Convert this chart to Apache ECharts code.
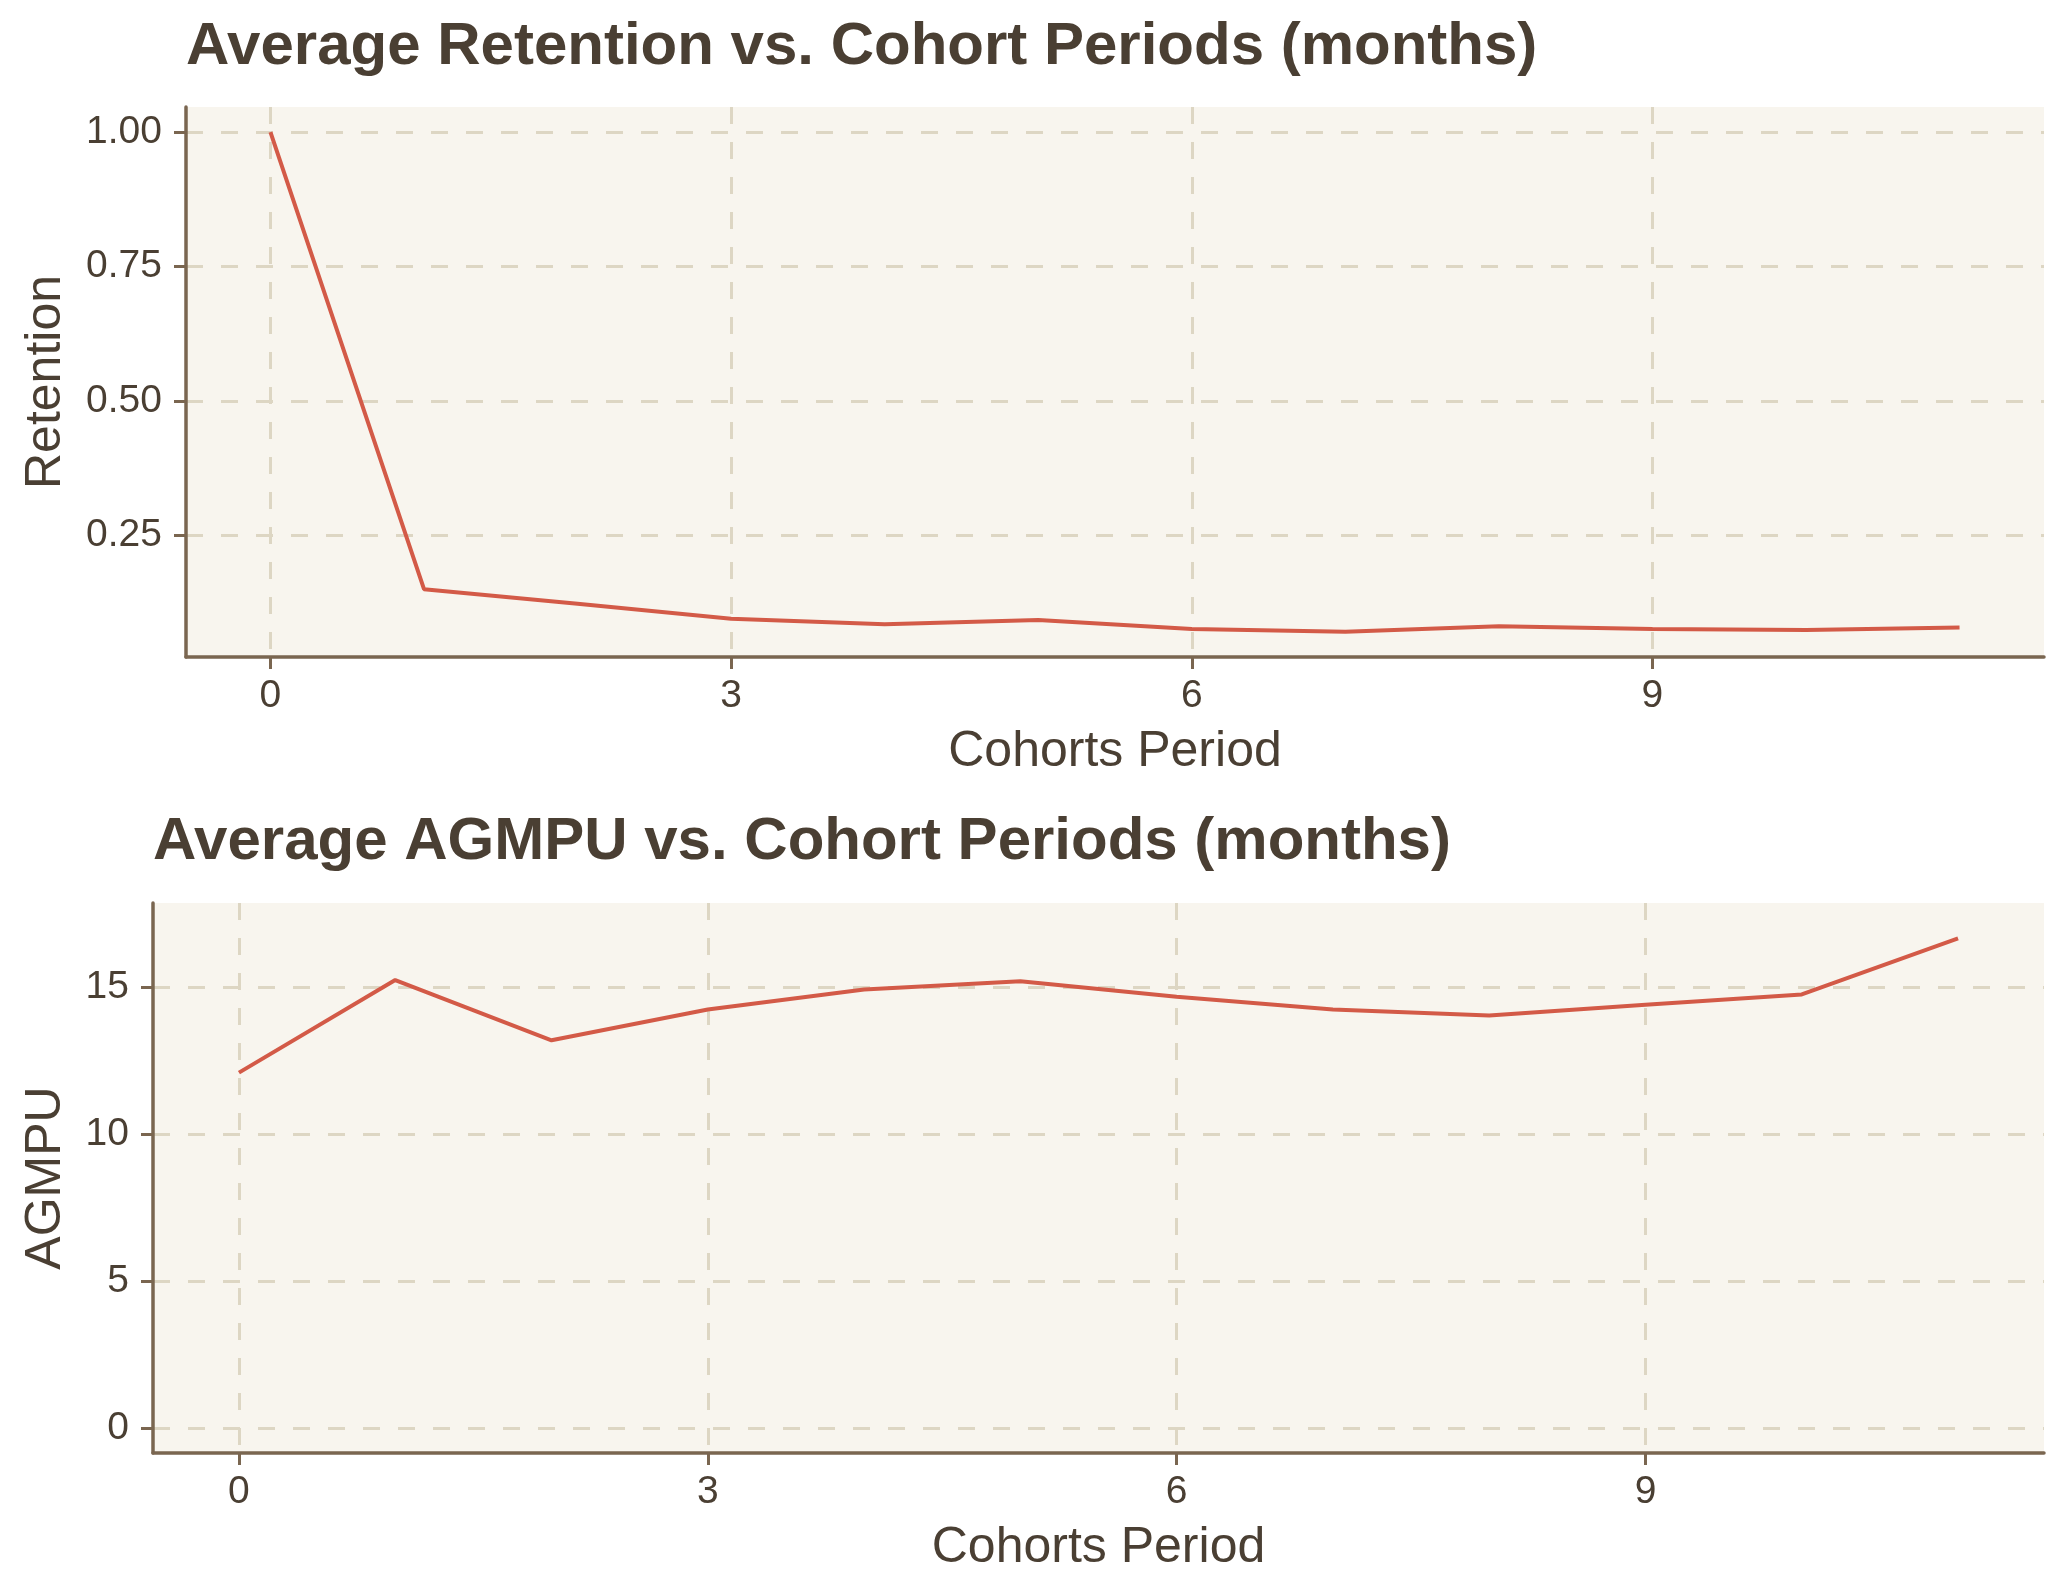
<!DOCTYPE html>
<html>
<head>
<meta charset="utf-8">
<script src="https://cdn.jsdelivr.net/npm/echarts@6/dist/echarts.min.js"></script>
<style>
html,body{margin:0;padding:0;background:#ffffff;}
#chart{width:2070px;height:1591px;}
</style>
</head>
<body>
<div id="chart"></div>
<script>
const periods = [0, 1, 2, 3, 4, 5, 6, 7, 8, 9, 10, 11];
const retention = [1.0, 0.150, 0.123, 0.095, 0.085, 0.093, 0.076, 0.071, 0.081, 0.076, 0.074, 0.079];
const agmpu = [12.09, 15.24, 13.19, 14.24, 14.92, 15.20, 14.67, 14.24, 14.03, 14.40, 14.75, 16.66];
const xTicks = [0, 3, 6, 9];
const retentionTicks = [0.25, 0.5, 0.75, 1.0];
const agmpuTicks = [0, 5, 10, 15];
const titles = ['Average Retention vs. Cohort Periods (months)', 'Average AGMPU vs. Cohort Periods (months)'];
const xName = 'Cohorts Period';
const yNames = ['Retention', 'AGMPU'];

const FONT = '"Liberation Sans", Arial, Helvetica, sans-serif';
const TEXT = '#4a3f33';
const AXIS = '#7a6650';
const GRIDC = '#ddd6c3';
const LINE = '#d35a47';

function xAxisCfg(gridIndex) {
  return {
    type: 'value', gridIndex: gridIndex, min: -0.55, max: 11.55,
    name: xName, nameLocation: 'middle', nameGap: 70,
    nameTextStyle: {fontFamily: FONT, fontSize: 50, color: TEXT},
    axisLine: {show: true, onZero: false, lineStyle: {color: AXIS, width: 3.5}},
    axisTick: {show: true, length: 12, lineStyle: {color: AXIS, width: 3}, customValues: xTicks},
    axisLabel: {show: true, margin: 20, fontFamily: FONT, fontSize: 39, color: TEXT, customValues: xTicks},
    splitLine: {show: true, lineStyle: {color: GRIDC, width: 3, type: [17, 18]}}
  };
}
function yAxisCfg(gridIndex, min, max, ticks, name, gap, fmt) {
  return {
    type: 'value', gridIndex: gridIndex, min: min, max: max,
    name: name, nameLocation: 'middle', nameGap: gap,
    nameTextStyle: {fontFamily: FONT, fontSize: 50, color: TEXT},
    axisLine: {show: true, onZero: false, lineStyle: {color: AXIS, width: 3.5}},
    axisTick: {show: true, length: 12, lineStyle: {color: AXIS, width: 3}, customValues: ticks},
    axisLabel: {show: true, margin: 24, fontFamily: FONT, fontSize: 39, color: TEXT, customValues: ticks, formatter: fmt},
    splitLine: {show: true, lineStyle: {color: GRIDC, width: 3, type: [17, 18]}}
  };
}

const chart = echarts.init(document.getElementById('chart'), null, {renderer: 'canvas'});
chart.setOption({
  animation: false,
  backgroundColor: '#ffffff',
  title: [
    {text: titles[0], left: 186, top: 17, padding: 0, textStyle: {fontFamily: FONT, fontSize: 60, fontWeight: 'bold', color: TEXT}},
    {text: titles[1], left: 153, top: 812, padding: 0, textStyle: {fontFamily: FONT, fontSize: 60, fontWeight: 'bold', color: TEXT}}
  ],
  grid: [
    {left: 186, top: 107, width: 1858, height: 550, show: true, backgroundColor: '#f8f5ee', borderWidth: 0, containLabel: false},
    {left: 153, top: 903, width: 1891, height: 550, show: true, backgroundColor: '#f8f5ee', borderWidth: 0, containLabel: false}
  ],
  xAxis: [xAxisCfg(0), xAxisCfg(1)],
  yAxis: [
    yAxisCfg(0, 0.024, 1.0465, retentionTicks, yNames[0], 115, v => v.toFixed(2)),
    yAxisCfg(1, -0.85, 17.86, agmpuTicks, yNames[1], 82, v => String(v))
  ],
  series: [
    {type: 'line', xAxisIndex: 0, yAxisIndex: 0, data: periods.map((p, i) => [p, retention[i]]),
     showSymbol: false, symbol: 'none', lineStyle: {color: LINE, width: 4}, z: 5},
    {type: 'line', xAxisIndex: 1, yAxisIndex: 1, data: periods.map((p, i) => [p, agmpu[i]]),
     showSymbol: false, symbol: 'none', lineStyle: {color: LINE, width: 4}, z: 5}
  ]
});
</script>
</body>
</html>
